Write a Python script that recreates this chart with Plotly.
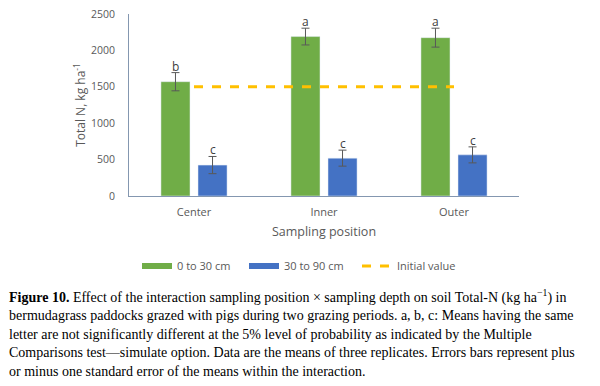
import plotly.graph_objects as go

positions = ["Center", "Inner", "Outer"]
depth_0_30 = [1570, 2190, 2175]
err_0_30 = [125, 115, 130]
depth_30_90 = [425, 520, 565]
err_30_90 = [118, 110, 110]
letters_0_30 = ["b", "a", "a"]
letters_30_90 = ["c", "c", "c"]
initial_value = [1500, 1500, 1500]
y_ticks = [0, 500, 1000, 1500, 2000, 2500]

caption_lines = [
    "<b>Figure 10.</b> Effect of the interaction sampling position × sampling depth on soil Total-N (kg ha<sup>−1</sup>) in",
    "bermudagrass paddocks grazed with pigs during two grazing periods. a, b, c: Means having the same",
    "letter are not significantly different at the 5% level of probability as indicated by the Multiple",
    "Comparisons test—simulate option. Data are the means of three replicates. Errors bars represent plus",
    "or minus one standard error of the means within the interaction.",
]

GREEN = "#70AD47"
BLUE = "#4472C4"
ORANGE = "#FFC000"
AXIS_FONT = "Open Sans, Liberation Sans, sans-serif"
ERR = "#595959"

# the page body adds an 8px offset; the figure is laid out to compensate
OFF = 8
W, H = 600, 386
PL, PT = 129 - OFF, 14 - OFF
PW, PH = 390, 182


def px_x(x):
    return (x - 129) / PW


def px_y(y):
    return (196 - y) / PH


fig = go.Figure()
fig.add_trace(go.Bar(
    x=positions, y=depth_0_30, name="0 to 30 cm", marker_color=GREEN, showlegend=False,
    error_y=dict(type="data", array=err_0_30, color=ERR, thickness=1, width=4),
))
fig.add_trace(go.Bar(
    x=positions, y=depth_30_90, name="30 to 90 cm", marker_color=BLUE, showlegend=False,
    error_y=dict(type="data", array=err_30_90, color=ERR, thickness=1, width=4),
))
fig.add_trace(go.Scatter(
    x=positions, y=initial_value, name="Initial value", mode="lines", showlegend=False,
    line=dict(color=ORANGE, width=3, dash="dash"),
))
# legend entries (wide swatches like the reference), one legend each for exact placement
fig.add_trace(go.Scatter(x=[None], y=[None], mode="lines", name="0 to 30 cm",
                         line=dict(color=GREEN, width=6), legend="legend"))
fig.add_trace(go.Scatter(x=[None], y=[None], mode="lines", name="30 to 90 cm",
                         line=dict(color=BLUE, width=6), legend="legend2"))
fig.add_trace(go.Scatter(x=[None], y=[None], mode="lines", name="Initial value",
                         line=dict(color=ORANGE, width=3, dash="dash"), legend="legend3"))

annotations = []
for pos, v, e, lt in zip(positions, depth_0_30, err_0_30, letters_0_30):
    annotations.append(dict(x=pos, y=v + e, text=lt, showarrow=False, xshift=-18.5,
                            yanchor="bottom", yshift=-4, font=dict(size=12, color="#404040", family=AXIS_FONT)))
for pos, v, e, lt in zip(positions, depth_30_90, err_30_90, letters_30_90):
    annotations.append(dict(x=pos, y=v + e, text=lt, showarrow=False, xshift=18.5,
                            yanchor="bottom", yshift=-4, font=dict(size=12, color="#404040", family=AXIS_FONT)))

line_y_px = [296, 315, 334, 352.5, 371]
for txt, ypx in zip(caption_lines, line_y_px):
    annotations.append(dict(
        xref="paper", yref="paper", x=px_x(7), y=px_y(ypx),
        xanchor="left", yanchor="middle", text=txt, showarrow=False, align="left",
        font=dict(family="Liberation Serif, serif", size=14, color="#000000"),
    ))

leg_common = dict(orientation="h", yanchor="middle", xanchor="left", y=px_y(266),
                  font=dict(family=AXIS_FONT, size=11, color="#595959"), bgcolor="rgba(0,0,0,0)")
fig.update_layout(
    width=W, height=H,
    margin=dict(l=PL, r=W - PL - PW, t=PT, b=H - PT - PH, autoexpand=False),
    paper_bgcolor="white", plot_bgcolor="white",
    barmode="group", bargap=0.43, bargroupgap=0.216,
    showlegend=True,
    legend=dict(x=px_x(137), **leg_common),
    legend2=dict(x=px_x(244), **leg_common),
    legend3=dict(x=px_x(357), **leg_common),
    annotations=annotations,
)
fig.update_xaxes(
    showline=True, linecolor="#8497B0", linewidth=1, ticks="", ticklabelstandoff=6,
    tickfont=dict(family=AXIS_FONT, size=11, color="#595959"),
    title=dict(text="Sampling position", font=dict(family=AXIS_FONT, size=12.5, color="#595959"), standoff=9),
)
fig.update_yaxes(
    range=[0, 2500], tickvals=y_ticks, showgrid=False, zeroline=False,
    showline=True, linecolor="#8497B0", linewidth=1, ticks="", ticklabelstandoff=11,
    ticklabeloverflow="allow",
    tickfont=dict(family=AXIS_FONT, size=10.5, color="#595959"),
    title=dict(text="Total N, kg ha<sup>-1</sup>", font=dict(family=AXIS_FONT, size=12, color="#595959"), standoff=2),
)

fig.write_html("out.html")
